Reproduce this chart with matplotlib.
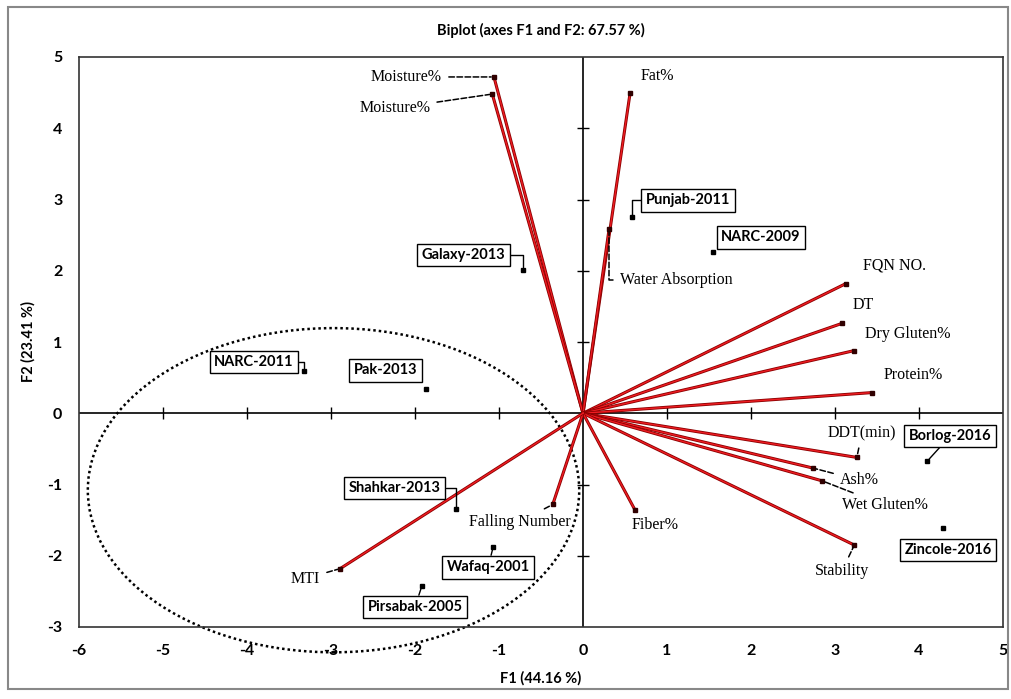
import matplotlib.pyplot as plt
from matplotlib.patches import Ellipse, Rectangle

plt.rcParams['axes.unicode_minus'] = False

# Variable loadings (F1, F2)
var_names = ['Moisture%', 'Moisture%', 'Fat%', 'Water Absorption', 'FQN NO.', 'DT',
             'Dry Gluten%', 'Protein%', 'DDT(min)', 'Ash%', 'Wet Gluten%', 'Stability',
             'Fiber%', 'Falling Number', 'MTI']
var_f1 = [-1.06, -1.08, 0.56, 0.31, 3.13, 3.08, 3.23, 3.44, 3.26, 2.74, 2.85, 3.23, 0.62, -0.36, -2.89]
var_f2 = [4.72, 4.48, 4.49, 2.58, 1.82, 1.26, 0.88, 0.29, -0.62, -0.77, -0.95, -1.85, -1.36, -1.28, -2.18]

# Observation scores (F1, F2)
obs_names = ['Galaxy-2013', 'Punjab-2011', 'NARC-2009', 'NARC-2011', 'Pak-2013', 'Shahkar-2013',
             'Wafaq-2001', 'Pirsabak-2005', 'Borlog-2016', 'Zincole-2016']
obs_f1 = [-0.71, 0.58, 1.55, -3.32, -1.87, -1.51, -1.07, -1.92, 4.10, 4.29]
obs_f2 = [2.01, 2.75, 2.26, 0.60, 0.34, -1.35, -1.88, -2.43, -0.67, -1.61]

# label placement (layout only)
var_lab_xy = [(-1.68, 4.72), (-1.82, 4.28), (0.88, 4.74), (0.44, 1.87), (3.71, 2.08), (3.33, 1.52),
              (3.87, 1.11), (3.93, 0.53), (3.32, -0.28), (3.06, -0.94), (3.08, -1.29), (3.08, -2.22),
              (0.86, -1.57), (-0.75, -1.52), (-3.13, -2.32)]
var_lab_ha = ['right', 'right', 'center', 'left', 'center', 'center', 'center', 'center', 'center',
              'left', 'left', 'center', 'center', 'center', 'right']
var_leader = [True, True, False, True, False, False, False, False, True, True, True, True, False, True, True]
var_conn = ['arc3', 'arc3', 'arc3', 'angle,angleA=0,angleB=90,rad=0', 'arc3', 'arc3', 'arc3', 'arc3',
            'arc3', 'arc3', 'arc3', 'arc3', 'arc3', 'arc3', 'arc3']
obs_lab_xy = [(-1.42, 2.22), (1.25, 2.99), (2.12, 2.47), (-3.92, 0.72), (-2.35, 0.60), (-2.24, -1.05),
              (-1.13, -2.16), (-2.0, -2.72), (4.37, -0.32), (4.35, -1.92)]
obs_leader = [True, True, False, True, False, True, True, True, True, False]
obs_conn = ['angle,angleA=0,angleB=90,rad=0', 'angle,angleA=0,angleB=90,rad=0', 'arc3',
            'angle,angleA=0,angleB=90,rad=0', 'arc3', 'angle,angleA=0,angleB=90,rad=0',
            'arc3', 'arc3', 'arc3', 'arc3']

fig = plt.figure(figsize=(10.11, 6.99), dpi=100)
ax = fig.add_axes([79 / 1011, 1 - 627 / 699, (1003 - 79) / 1011, (627 - 57) / 699])

# outer grey frame
fig.patches.append(Rectangle((8 / 1011, 10 / 699), 1000 / 1011, 682 / 699, transform=fig.transFigure,
                             fill=False, edgecolor='#888888', lw=1.5))

ax.set_xlim(-6, 5)
ax.set_ylim(-3, 5)

# zero lines with crossing ticks
xt = [t for t in range(-5, 5) if t != 0]
yt = [t for t in range(-2, 5) if t != 0]
ax.axhline(0, color='black', lw=1.2)
ax.axvline(0, color='black', lw=1.2)
ax.plot(xt, [0] * len(xt), ls='none', marker='|', ms=9, color='black', mew=1)
ax.plot([0] * len(yt), yt, ls='none', marker='_', ms=9, color='black', mew=1)

# variable vectors
for i in range(len(var_names)):
    ax.plot([0, var_f1[i]], [0, var_f2[i]], color='#8a0000', lw=2.2, solid_capstyle='butt')
    ax.plot([0, var_f1[i]], [0, var_f2[i]], color='#ee1c22', lw=1.0)
    ax.plot(var_f1[i], var_f2[i], 's', ms=3, color='#300000')
    if var_leader[i]:
        ax.annotate(var_names[i], xy=(var_f1[i], var_f2[i]), xytext=var_lab_xy[i],
                    ha=var_lab_ha[i], va='center', fontsize=11.5, family='Liberation Serif',
                    arrowprops=dict(arrowstyle='-', ls='--', lw=1.1, color='black', shrinkA=3, shrinkB=2,
                                    connectionstyle=var_conn[i]))
    else:
        ax.text(var_lab_xy[i][0], var_lab_xy[i][1], var_names[i], ha=var_lab_ha[i], va='center',
                fontsize=11.5, family='Liberation Serif')

# observations
ax.plot(obs_f1, obs_f2, 's', ms=3, color='black', ls='none')
for i in range(len(obs_names)):
    arrow = None
    if obs_leader[i]:
        arrow = dict(arrowstyle='-', lw=1.0, color='black', shrinkA=0, shrinkB=2,
                     connectionstyle=obs_conn[i])
    ax.annotate(obs_names[i], xy=(obs_f1[i], obs_f2[i]), xytext=obs_lab_xy[i], ha='center', va='center',
                fontsize=10.5, fontweight='bold', family='Lato',
                bbox=dict(boxstyle='square,pad=0.3', fc='white', ec='black', lw=1.0),
                arrowprops=arrow)

# dotted ellipse
ax.add_patch(Ellipse((-2.97, -1.08), 5.85, 4.55, fill=False, ls=(0, (1, 1.2)), lw=1.8,
                     color='black', clip_on=False))

for s in ax.spines.values():
    s.set_color('#333333')
    s.set_linewidth(1.2)
ax.set_xticks(range(-6, 6))
ax.set_yticks(range(-3, 6))
ax.tick_params(length=0, labelsize=11.5, pad=12)
for lab in ax.get_xticklabels() + ax.get_yticklabels():
    lab.set_fontweight('bold')
    lab.set_family('Lato')
ax.set_xlabel('F1 (44.16 %)', fontsize=10.5, fontweight='bold', family='Lato', labelpad=10)
ax.set_ylabel('F2 (23.41 %)', fontsize=10.5, fontweight='bold', family='Lato', labelpad=8)
ax.set_title('Biplot (axes F1 and F2: 67.57 %)', fontsize=10.5, fontweight='bold', family='Lato', pad=16)

fig.savefig('out.png', dpi=100)
